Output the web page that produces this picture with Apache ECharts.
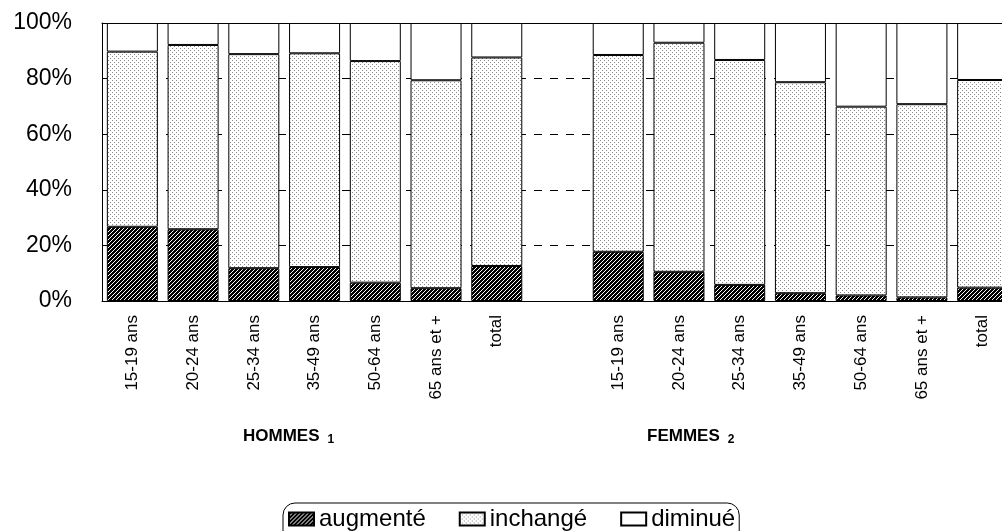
<!DOCTYPE html>
<html><head><meta charset="utf-8">
<script src="https://cdn.jsdelivr.net/npm/echarts@6/dist/echarts.min.js"></script>
<style>html,body{margin:0;padding:0;background:#fff;overflow:hidden;width:1002px;height:531px}#c{width:1020px;height:531px}</style>
</head><body><div id="c"></div>
<script>
var categories = ['15-19 ans','20-24 ans','25-34 ans','35-49 ans','50-64 ans','65 ans et +','total','', '15-19 ans','20-24 ans','25-34 ans','35-49 ans','50-64 ans','65 ans et +','total'];
var augmente = [26.7,25.8,11.8,12.2,6.6,4.6,12.6, null, 17.7,10.5,5.8,2.8,2.0,1.3,4.8];
var inchange = [63.0,66.3,77.0,76.9,79.7,74.8,75.0, null, 70.8,82.4,80.9,75.9,67.9,69.5,74.7];
var diminue  = [10.3,7.9,11.2,10.9,13.7,20.6,12.4, null, 11.5,7.1,13.3,21.3,30.1,29.2,20.5];
var yTicks = [0,20,40,60,80,100];
var seriesNames = ['augmenté','inchangé','diminué'];

function makePattern(bg, fg, pts, size){
  var c = document.createElement('canvas'); c.width = size; c.height = size;
  var g = c.getContext('2d'); g.fillStyle = bg; g.fillRect(0,0,size,size);
  g.fillStyle = fg; pts.forEach(function(p){ g.fillRect(p[0],p[1],1,1); });
  return {image: c, repeat: 'repeat'};
}
var patAug = makePattern('#000','#fff',[[3,0],[2,1],[1,2],[0,3]],4);
var patInch = makePattern('#fff','#888',[[0,0],[2,2]],4);

var chart = echarts.init(document.getElementById('c'), null, {renderer:'canvas', width:1020, height:531});
var font = '"Liberation Sans", Arial, Helvetica, sans-serif';
function mk(name, data, color){
  return {name:name, type:'bar', stack:'s', data:data, barCategoryGap:'16%',
    itemStyle:{color:color, borderColor:'#000', borderWidth:1}, emphasis:{disabled:true}};
}
var groupRich = {b:{fontSize:17, fontWeight:'bold', fontFamily:font, fill:'#000'},
                 s:{fontSize:12, fontWeight:'bold', fontFamily:font, fill:'#000', padding:[6,0,0,8]}};
chart.setOption({
  animation:false,
  grid:{left:102, top:23, width:911, height:278, containLabel:false},
  xAxis:[{type:'category', data:categories, axisTick:{show:false},
    axisLine:{lineStyle:{color:'#000', width:1}},
    axisLabel:{rotate:90, margin:14, color:'#000', fontSize:17, fontFamily:font, interval:0}},
    {type:'category', data:categories, position:'top', axisTick:{show:false},
    axisLine:{lineStyle:{color:'#000', width:1}}, axisLabel:{show:false}}],
  yAxis:{type:'value', min:yTicks[0], max:yTicks[yTicks.length-1], interval:20,
    axisLine:{show:true, lineStyle:{color:'#000'}}, axisTick:{show:false},
    axisLabel:{formatter:'{value}%', color:'#000', fontSize:23, fontFamily:font, margin:30},
    splitLine:{lineStyle:{color:'#000', type:[8,8], width:1}}},
  legend:{left:283, top:503, data:seriesNames, itemWidth:25, itemHeight:13, itemGap:33,
    borderColor:'#000', borderWidth:1, borderRadius:12, padding:[4,4,12,5],
    textStyle:{color:'#000', fontSize:24, fontFamily:font}, icon:'rect'},
  graphic:[
    {type:'text', left:243, top:428, style:{rich:groupRich, text:'{b|HOMMES}{s|1}'}},
    {type:'text', left:647, top:428, style:{rich:groupRich, text:'{b|FEMMES}{s|2}'}}
  ],
  series:[mk(seriesNames[0], augmente, patAug), mk(seriesNames[1], inchange, patInch), mk(seriesNames[2], diminue, '#fff')]
});
</script></body></html>
